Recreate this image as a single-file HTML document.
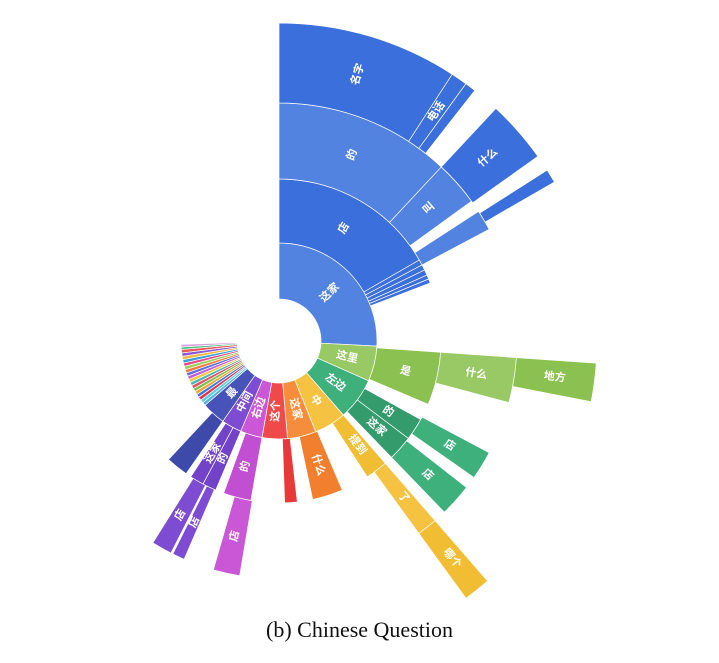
<!DOCTYPE html>
<html><head><meta charset="utf-8">
<style>
html,body{margin:0;padding:0;background:#fff;}
#wrap{position:relative;width:719px;height:663px;overflow:hidden;}
svg text{font-family:"Liberation Sans","Noto Sans CJK SC",sans-serif;}
#cap{position:absolute;left:0;width:719px;top:617px;text-align:center;font-family:"Liberation Serif",serif;font-size:22px;color:#111;}
</style></head>
<body>
<div id="wrap">
<svg id="sb" width="719" height="663"></svg>
<div id="cap">(b) Chinese Question</div>
</div>
<script>
// data: ring level, start angle (deg, clockwise from north), end angle, colour group, label
const rings  = [1,1,1,1,1,1,1,1,1, 2,2,2,2,2,2,2,2,2,2,2,2,2,2,2,2, 3,3,3,3,3,3,3,3,3,3, 4,4,4,4,4,4,4];
const starts = [0,93,114,139,158,175,190,203,215, 0,60,62,64,66,67.5,94,119,127,139,157,173.5,190,203,208,215, 0,43,57,94,118,128,139,189.5,203.5,207, 0,33,36,43,57.5,94,139];
const ends   = [93,114,139,158,175,190,203,215,229, 60,62,64,66,67.5,69,113,127,136,147,168,178,200,208,213,223, 43,54,62,105,125,136,144,196,206.5,212, 33,36,38,54.5,60,101,144];
const groups = ["blueL","lime","green","yellow","orange","red","magenta","purple","navy",
  "blue","blue","blue","blue","blue","blue","lime2","dgreen","dgreen","yellow2","orange2","red2","magenta2","purple2","purple2","navy2",
  "blueL","blueL","blueL","lime","green","green","yellow","magenta","purple","purple",
  "blue","blue","blue","blue","blue","lime2","yellow2"];
const labels = ["这家","这里","左边","中","这家","这个","右边","中间","最",
  "店","","","","","","是","的","这家","提到","什么","","的","的","这家","",
  "的","叫","","什么","店","店","了","店","店","店",
  "名字","电话","","什么","","地方","哪个"];
// small ring-1 slivers on the left side
const sliverStarts = [229,231,233,235,237,239,241,243,245,247,249,251,253,255,257,259,261,263,265,266.5];
const sliverEnds   = [231,233,235,237,239,241,243,245,247,249,251,253,255,257,259,261,263,265,266.5,268];
const sliverColors = ["#4fb3e8","#5ccfd6","#e0305a","#3a7be0","#f2a63a","#7bc24c","#e8506a","#47b8b0","#f6c445","#c45ad6","#5a6ee0","#f07a3a","#9ad060","#e84a8a","#39a0d8","#f5b942","#8a5ad6","#e85a5a","#54c08a","#d8a0e0"];

const palette = {blue:"#3b6fdb",blueL:"#5283e0",lime:"#98c964",lime2:"#8bc151",green:"#3db07c",dgreen:"#349b6c",
  yellow:"#f5c242",yellow2:"#f0bd33",orange:"#f68d3d",orange2:"#f27f2d",red:"#ee4a4a",red2:"#e83838",
  magenta:"#c957d6",magenta2:"#c24ed1",purple:"#7d4cd3",purple2:"#7243c9",navy:"#4753b8",navy2:"#3e4aa9"};

const CX=279, CY=341;
const R=[42,98,162,238,318];
function pt(r,a){const t=a*Math.PI/180;return [CX+r*Math.sin(t),CY-r*Math.cos(t)];}
function arcPath(r0,r1,a0,a1){
  const p1=pt(r0,a0),p2=pt(r1,a0),p3=pt(r1,a1),p4=pt(r0,a1);
  const lg=(a1-a0)>180?1:0;
  return `M${p1[0]},${p1[1]}L${p2[0]},${p2[1]}A${r1},${r1} 0 ${lg} 1 ${p3[0]},${p3[1]}L${p4[0]},${p4[1]}A${r0},${r0} 0 ${lg} 0 ${p1[0]},${p1[1]}Z`;
}
const NS="http://www.w3.org/2000/svg";
const svg=document.getElementById('sb');
function addSeg(ring,a0,a1,col,name){
  const p=document.createElementNS(NS,'path');
  p.setAttribute('d',arcPath(R[ring-1],R[ring],a0,a1));
  p.setAttribute('fill',col);
  p.setAttribute('stroke','#fff');
  p.setAttribute('stroke-width','0.7');
  
  
  svg.appendChild(p);
}
for(let i=0;i<rings.length;i++){
  addSeg(rings[i],starts[i],ends[i],palette[groups[i]],'segment-ring'+rings[i]+'-'+i);
}
for(let i=0;i<sliverStarts.length;i++){
  addSeg(1,sliverStarts[i],sliverEnds[i],sliverColors[i],'sliver-'+i);
}
for(let i=0;i<rings.length;i++){
  if(!labels[i]) continue;
  const a=(starts[i]+ends[i])/2;
  const r=(R[rings[i]-1]+R[rings[i]])/2;
  const p=pt(r,a);
  let rot=a<180?a-90:a+90;
  const t=document.createElementNS(NS,'text');
  t.setAttribute('x',p[0]);t.setAttribute('y',p[1]);
  t.setAttribute('fill','#fff');
  t.setAttribute('font-size','11');
  t.setAttribute('font-weight','bold');
  t.setAttribute('text-anchor','middle');
  t.setAttribute('dominant-baseline','central');
  t.setAttribute('transform',`rotate(${rot} ${p[0]} ${p[1]})`);
  t.textContent=labels[i];
  
  
  svg.appendChild(t);
}
</script>
</body></html>
